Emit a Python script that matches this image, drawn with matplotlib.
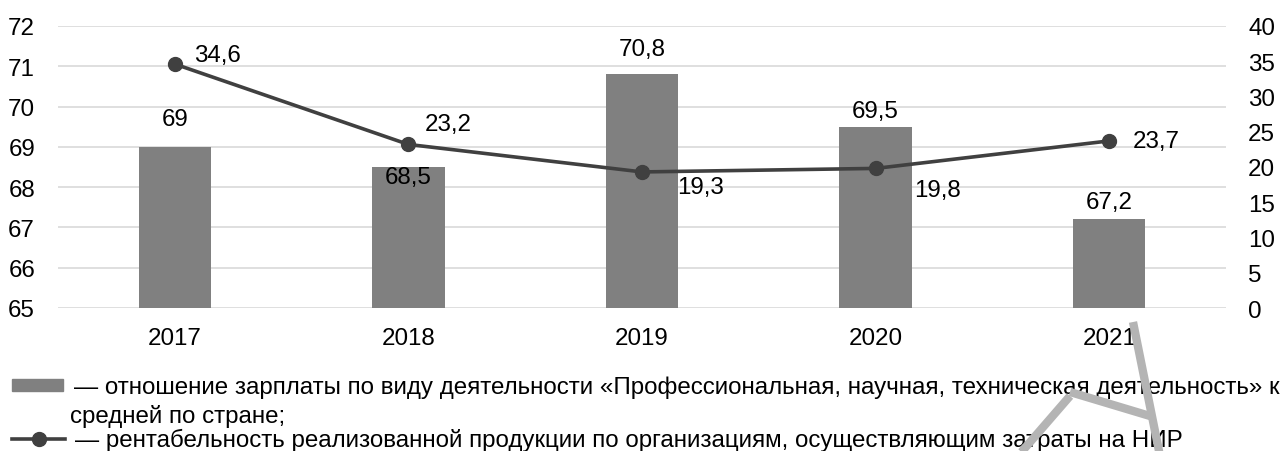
import matplotlib.pyplot as plt
from matplotlib.lines import Line2D

plt.rcParams['font.family'] = ['Liberation Sans', 'DejaVu Sans']

years = ['2017', '2018', '2019', '2020', '2021']
salary_ratio = [69, 68.5, 70.8, 69.5, 67.2]
profitability = [34.6, 23.2, 19.3, 19.8, 23.7]

# label offsets in pixels (dx, dy), picked by eye
bar_label_offsets = [(0, 28), (0, -10), (0, 25), (0, 16), (0, 17)]
line_label_offsets = [(43, 9), (40, 20), (58, -15), (62, -22), (47, 0)]

fs = 17.4

W, H = 1285, 452
fig = plt.figure(figsize=(W / 100, H / 100), dpi=100)
ax = fig.add_axes([58 / W, 143 / H, (1226 - 58) / W, (309 - 27) / H])
ax2 = ax.twinx()

x = range(len(years))
ax.bar(x, salary_ratio, width=0.31, color='#808080', bottom=0, zorder=2)
ax.set_ylim(65, 72)
ax.set_xlim(-0.5, len(years) - 0.5)
ax.set_xticks(list(x))
ax.set_xticklabels(years)
ax.set_yticks(range(65, 73))
ax.grid(axis='y', color='#d9d9d9', linewidth=1.2, zorder=0)
ax.set_axisbelow(True)

ax2.plot(x, profitability, color='#404040', linewidth=2.6, marker='o',
         markersize=10, zorder=5)
ax2.set_ylim(0, 40)
ax2.set_yticks(range(0, 41, 5))

for a in (ax, ax2):
    for s in a.spines.values():
        s.set_visible(False)
    a.tick_params(length=0, labelsize=fs, colors='black')
ax.tick_params(axis='y', pad=16.5)
ax.tick_params(axis='x', pad=14)
ax2.tick_params(axis='y', pad=16)

for i, v in enumerate(salary_ratio):
    dx, dy = bar_label_offsets[i]
    ax.annotate(f'{v:g}'.replace('.', ','), (i, v), xytext=(dx, dy),
                textcoords='offset pixels', ha='center', va='center',
                fontsize=fs, zorder=6)

for i, v in enumerate(profitability):
    dx, dy = line_label_offsets[i]
    ax2.annotate(f'{v:g}'.replace('.', ','), (i, v), xytext=(dx, dy),
                 textcoords='offset pixels', ha='center', va='center',
                 fontsize=fs, zorder=6)

# legend drawn by hand below the chart
fig.patches.append(plt.Rectangle((12 / W, 1 - 392 / H), 51 / W, 12 / H,
                                 transform=fig.transFigure, color='#808080'))
fig.lines.append(Line2D([12 / W, 65 / W], [1 - 440 / H, 1 - 440 / H],
                        transform=fig.transFigure, color='#404040',
                        linewidth=2.6))
fig.lines.append(Line2D([38.5 / W], [1 - 440 / H], transform=fig.transFigure,
                        color='#404040', marker='o', markersize=10,
                        linestyle='none'))

fig.text(74 / W, 1 - 388 / H,
         '— отношение зарплаты по виду деятельности «Профессиональная, научная, техническая деятельность» к',
         fontsize=fs, va='center', ha='left')
fig.text(70 / W, 1 - 417 / H, 'средней по стране;',
         fontsize=fs, va='center', ha='left')
fig.text(75 / W, 1 - 440 / H,
         '— рентабельность реализованной продукции по организациям, осуществляющим затраты на НИР',
         fontsize=fs, va='center', ha='left')

# light gray pen mark in the lower right corner
wm = dict(transform=fig.transFigure, color='#b4b4b4', linewidth=6,
          solid_capstyle='butt', zorder=10)
fig.lines.append(Line2D([1133 / W, 1160 / W], [1 - 323 / H, 1 - 457 / H], **wm))
fig.lines.append(Line2D([1070 / W, 1150 / W], [1 - 393 / H, 1 - 417 / H], **wm))
fig.lines.append(Line2D([1070 / W, 1018 / W], [1 - 397 / H, 1 - 457 / H], **wm))

fig.savefig('out.png', dpi=100)
